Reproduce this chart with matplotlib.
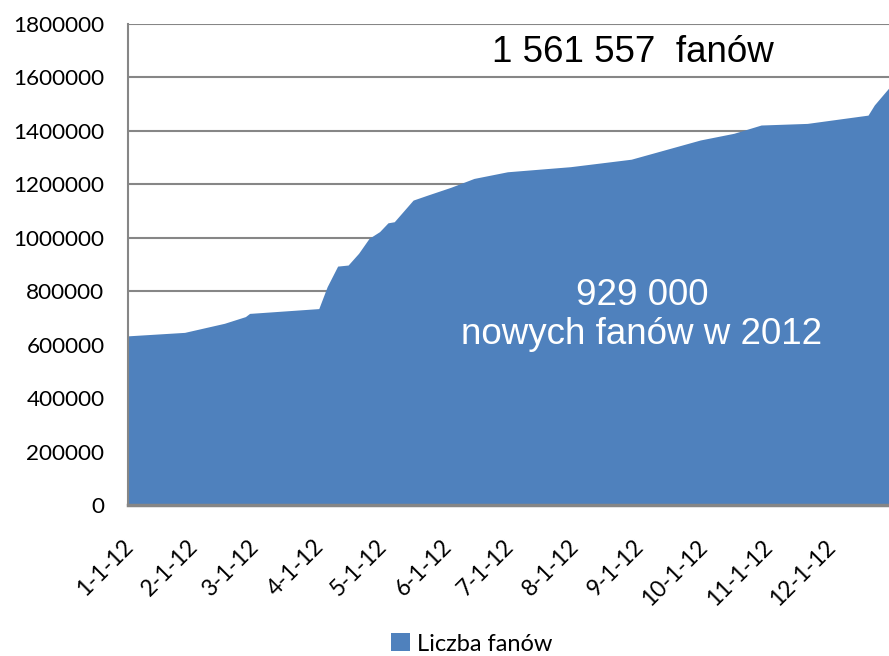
import matplotlib
matplotlib.use("Agg")
import matplotlib.pyplot as plt
import matplotlib.dates as mdates
import matplotlib.transforms as mtransforms
import numpy as np
import datetime as dt

# Key points (date, number of fans)
dates = ["2012-01-01", "2012-01-03", "2012-01-28", "2012-02-16", "2012-02-26", "2012-02-28",
         "2012-04-01", "2012-04-05", "2012-04-10", "2012-04-15", "2012-04-20", "2012-04-25",
         "2012-04-30", "2012-05-04", "2012-05-07", "2012-05-16", "2012-05-23", "2012-06-03",
         "2012-06-14", "2012-06-30", "2012-07-30", "2012-08-28", "2012-09-30", "2012-10-16",
         "2012-10-29", "2012-11-20", "2012-12-19", "2012-12-22", "2012-12-29"]
fans = [633000, 634000, 646000, 680000, 705000, 717000,
        735000, 817000, 894000, 898000, 942000, 998000,
        1023000, 1056000, 1060000, 1141000, 1160000, 1189000,
        1222000, 1247000, 1266000, 1294000, 1366000, 1391000,
        1422000, 1428000, 1459000, 1497000, 1561557]

tick_dates = ["2012-%02d-01" % m for m in range(1, 13)]
tick_labels = ["%d-1-12" % m for m in range(1, 13)]
y_ticks = [0, 200000, 400000, 600000, 800000, 1000000, 1200000, 1400000, 1600000, 1800000]

series_name = "Liczba fanów"
title_text = "1 561 557  fanów"
note_text = "929 000\nnowych fanów w 2012"

fill_color = "#4F81BD"
grid_color = "#868686"

x = [dt.datetime.strptime(d, "%Y-%m-%d") for d in dates]
xt = [dt.datetime.strptime(d, "%Y-%m-%d") for d in tick_dates]

fig = plt.figure(figsize=(8.89, 6.56), dpi=100)
ax = fig.add_axes([128/889, 151/656, 1 - 128/889, (505-24)/656])

ax.fill_between(x, fans, 0, color=fill_color, linewidth=0, label=series_name, zorder=2)
ax.set_xlim(x[0], x[-1])
ax.set_ylim(0, 1800000)
ax.set_yticks(y_ticks)
ax.set_yticklabels([str(v) for v in y_ticks], fontfamily="Lato", fontsize=16.2)
ax.set_xticks(mdates.date2num(xt))
ax.set_xticklabels(tick_labels, rotation=45, ha="right", rotation_mode="anchor",
                   fontfamily="Lato", fontsize=16.4)
ax.tick_params(axis="both", length=0)
ax.tick_params(axis="y", pad=17)
ax.tick_params(axis="x", pad=8)

offset = mtransforms.ScaledTranslation(-6/100, -20/100, fig.dpi_scale_trans)
for lbl in ax.get_xticklabels():
    lbl.set_transform(lbl.get_transform() + offset)

ax.grid(axis="y", color=grid_color, linewidth=1.5, zorder=1)
ax.set_axisbelow(True)
for s in ["top", "right"]:
    ax.spines[s].set_visible(False)
ax.spines["left"].set_color(grid_color)
ax.spines["left"].set_linewidth(1.5)
ax.spines["bottom"].set_color(grid_color)
ax.spines["bottom"].set_linewidth(2.5)
ax.spines["bottom"].set_zorder(3)

fig.text(633/889, 1 - 53/656, title_text, ha="center", va="center",
         fontfamily="Liberation Sans", fontsize=26.5, color="black")
fig.text(642/889, 1 - 315/656, note_text, ha="center", va="center",
         fontfamily="Liberation Sans", fontsize=26.5, color="white", linespacing=1.12)

leg = fig.legend(loc="center", bbox_to_anchor=(472/889, 1 - 644/656), frameon=False,
                 prop={"family": "Lato", "size": 17}, handlelength=0.8, handleheight=0.8,
                 handletextpad=0.3)

fig.savefig("out.png", dpi=100)
